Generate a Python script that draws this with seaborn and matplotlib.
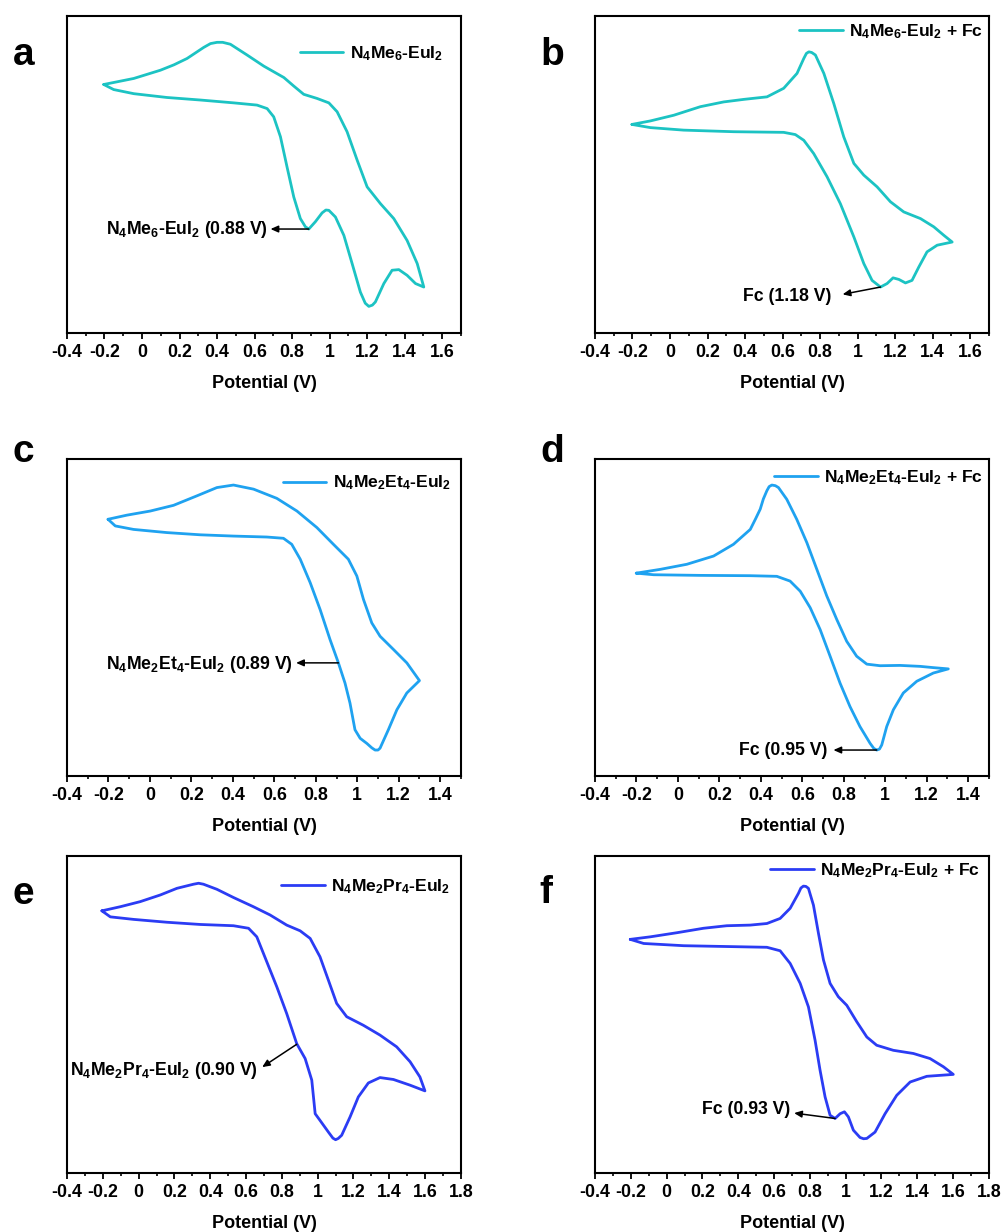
import numpy as np
import pandas as pd
import matplotlib
matplotlib.use('Agg')
import matplotlib.pyplot as plt
import seaborn as sns
from matplotlib.ticker import MultipleLocator, FuncFormatter

# --- data (potential in V, current in arbitrary units 0-100) ---
# panel a : N4Me6-EuI2
a_up_v = [-0.204, -0.044, 0.098, 0.170, 0.240, 0.329, 0.365, 0.400, 0.430, 0.471, 0.560, 0.649,
          0.756, 0.809, 0.862, 0.933, 0.996, 1.040, 1.093, 1.147, 1.200, 1.271, 1.342, 1.413,
          1.467, 1.502]
a_up_i = [78.4, 80.3, 82.9, 84.6, 86.6, 90.1, 91.3, 91.7, 91.7, 91.1, 87.7, 84.2,
          80.6, 77.9, 75.3, 74.0, 72.6, 69.8, 63.5, 54.5, 46.1, 40.8, 36.1, 29.2,
          21.9, 14.5]
a_dn_v = [-0.204, -0.151, -0.044, 0.133, 0.311, 0.489, 0.613, 0.667, 0.702, 0.738, 0.773, 0.809,
          0.844, 0.871, 0.889, 0.924, 0.960, 0.980, 0.996, 1.031, 1.076, 1.120, 1.164, 1.190,
          1.209, 1.228, 1.244, 1.289, 1.333, 1.369, 1.413, 1.458, 1.502]
a_dn_i = [78.4, 76.8, 75.5, 74.3, 73.5, 72.6, 71.9, 70.8, 68.2, 61.9, 52.4, 42.9,
          36.1, 33.5, 32.8, 35.1, 37.9, 38.8, 38.7, 36.6, 30.8, 21.9, 12.9, 9.4,
          8.4, 8.8, 9.8, 15.6, 19.8, 20.0, 18.2, 15.6, 14.5]

# panel b : N4Me6-EuI2 + Fc
b_up_v = [-0.203, -0.105, 0.020, 0.162, 0.286, 0.393, 0.517, 0.606, 0.677, 0.713, 0.727, 0.740,
          0.755, 0.775, 0.820, 0.873, 0.926, 0.980, 1.033, 1.104, 1.175, 1.246, 1.335, 1.406,
          1.460, 1.504]
b_up_i = [65.8, 66.9, 68.7, 71.4, 72.9, 73.7, 74.5, 77.2, 81.9, 86.6, 88.2, 88.7,
          88.5, 87.7, 81.9, 72.4, 61.9, 53.5, 49.8, 46.1, 41.4, 38.2, 36.1, 33.5,
          30.8, 28.7]
b_dn_v = [-0.203, -0.105, 0.073, 0.340, 0.606, 0.668, 0.713, 0.766, 0.837, 0.908, 0.980, 1.033,
          1.077, 1.122, 1.157, 1.189, 1.220, 1.255, 1.290, 1.326, 1.370, 1.424, 1.504]
b_dn_i = [65.8, 64.8, 64.0, 63.5, 63.3, 62.6, 60.8, 56.6, 49.3, 40.8, 30.3, 21.9,
          16.6, 14.5, 15.6, 17.4, 16.9, 15.8, 16.6, 20.8, 25.6, 27.7, 28.7]

# panel c : N4Me2Et4-EuI2
c_up_v = [-0.202, -0.111, 0.002, 0.114, 0.227, 0.323, 0.403, 0.500, 0.612, 0.709, 0.805, 0.885,
          0.957, 0.998, 1.030, 1.070, 1.110, 1.175, 1.239, 1.300]
c_up_i = [81.0, 82.3, 83.6, 85.4, 88.4, 91.0, 91.8, 90.5, 87.6, 83.6, 78.4, 73.1,
          68.4, 63.1, 55.7, 48.3, 44.1, 39.9, 35.7, 30.1]
c_dn_v = [-0.202, -0.167, -0.079, 0.082, 0.243, 0.403, 0.564, 0.644, 0.684, 0.725, 0.773, 0.821,
          0.869, 0.909, 0.941, 0.965, 0.989, 1.014, 1.046, 1.070, 1.086, 1.100, 1.110, 1.150,
          1.191, 1.239, 1.300]
c_dn_i = [81.0, 78.9, 77.8, 76.8, 76.1, 75.7, 75.4, 75.0, 73.1, 68.4, 61.0, 52.5,
          43.0, 35.7, 29.3, 23.0, 14.6, 11.9, 10.3, 8.9, 8.2, 8.2, 8.8, 14.6,
          20.9, 26.2, 30.1]

# panel d : N4Me2Et4-EuI2 + Fc
d_up_v = [-0.201, -0.085, 0.043, 0.172, 0.268, 0.349, 0.375, 0.397, 0.412, 0.429, 0.440, 0.453,
          0.470, 0.485, 0.525, 0.573, 0.622, 0.670, 0.718, 0.766, 0.814, 0.862, 0.911, 0.975,
          1.071, 1.168, 1.232, 1.304]
d_up_i = [64.0, 65.2, 66.8, 69.4, 73.1, 77.8, 81.2, 84.2, 87.4, 90.0, 91.3, 91.8,
          91.6, 91.0, 87.3, 81.0, 73.6, 65.2, 56.8, 49.4, 42.5, 37.8, 35.3, 34.8,
          34.9, 34.6, 34.2, 33.8]
d_dn_v = [-0.201, -0.117, 0.108, 0.349, 0.477, 0.541, 0.590, 0.638, 0.686, 0.734, 0.782, 0.830,
          0.878, 0.927, 0.945, 0.959, 0.972, 0.983, 1.007, 1.039, 1.087, 1.152, 1.232, 1.304]
d_dn_i = [64.0, 63.5, 63.3, 63.2, 63.0, 61.5, 58.3, 53.1, 46.2, 37.8, 29.3, 21.9,
          15.6, 10.3, 8.7, 8.2, 8.5, 9.8, 15.6, 20.9, 26.2, 29.9, 32.5, 33.8]

# panel e : N4Me2Pr4-EuI2
e_up_v = [-0.205, -0.102, 0.009, 0.121, 0.214, 0.307, 0.335, 0.362, 0.437, 0.530, 0.641, 0.734,
          0.827, 0.902, 0.958, 1.013, 1.060, 1.106, 1.162, 1.255, 1.348, 1.441, 1.516, 1.571,
          1.599]
e_up_i = [82.7, 84.0, 85.6, 87.7, 89.8, 91.1, 91.4, 91.1, 89.5, 86.9, 84.0, 81.4,
          78.2, 76.4, 74.0, 68.2, 60.8, 53.5, 49.3, 46.6, 43.5, 39.8, 35.1, 30.3,
          25.9]
e_dn_v = [-0.205, -0.158, -0.028, 0.158, 0.344, 0.530, 0.614, 0.660, 0.716, 0.772, 0.827, 0.883,
          0.930, 0.967, 0.986, 1.013, 1.060, 1.085, 1.100, 1.115, 1.134, 1.181, 1.227, 1.283,
          1.348, 1.423, 1.516, 1.599]
e_dn_i = [82.7, 80.8, 80.0, 79.1, 78.4, 78.0, 77.2, 74.5, 66.6, 58.7, 50.3, 40.8,
          36.1, 29.3, 18.7, 16.6, 12.9, 11.0, 10.5, 10.9, 11.9, 17.7, 24.0, 28.4,
          30.1, 29.5, 27.7, 25.9]

# panel f : N4Me2Pr4-EuI2 + Fc
f_up_v = [-0.203, -0.091, 0.058, 0.206, 0.336, 0.467, 0.560, 0.634, 0.690, 0.736, 0.750, 0.764,
          0.778, 0.792, 0.820, 0.848, 0.876, 0.913, 0.959, 1.006, 1.062, 1.118, 1.173, 1.266,
          1.378, 1.471, 1.546, 1.601]
f_up_i = [73.7, 74.5, 75.8, 77.2, 78.0, 78.2, 78.7, 80.3, 83.5, 88.2, 89.9, 90.5,
          90.4, 89.8, 84.5, 75.6, 67.2, 59.8, 55.6, 52.9, 47.7, 42.9, 40.3, 38.7,
          37.7, 36.1, 33.5, 31.1]
f_dn_v = [-0.203, -0.128, 0.095, 0.374, 0.560, 0.634, 0.690, 0.746, 0.792, 0.829, 0.857, 0.885,
          0.913, 0.941, 0.969, 0.993, 1.015, 1.043, 1.080, 1.100, 1.118, 1.164, 1.220, 1.285,
          1.360, 1.453, 1.601]
f_dn_i = [73.7, 72.4, 71.7, 71.4, 71.2, 70.1, 66.1, 59.8, 52.4, 41.9, 32.4, 24.0,
          18.2, 17.2, 18.7, 19.3, 17.7, 13.5, 11.2, 10.8, 10.9, 12.9, 18.7, 24.5,
          28.7, 30.5, 31.1]

labels = [r'N$_4$Me$_6$-EuI$_2$', r'N$_4$Me$_6$-EuI$_2$ + Fc',
          r'N$_4$Me$_2$Et$_4$-EuI$_2$', r'N$_4$Me$_2$Et$_4$-EuI$_2$ + Fc',
          r'N$_4$Me$_2$Pr$_4$-EuI$_2$', r'N$_4$Me$_2$Pr$_4$-EuI$_2$ + Fc']
notes = [r'N$_4$Me$_6$-EuI$_2$ (0.88 V)', 'Fc (1.18 V)',
         r'N$_4$Me$_2$Et$_4$-EuI$_2$ (0.89 V)', 'Fc (0.95 V)',
         r'N$_4$Me$_2$Pr$_4$-EuI$_2$ (0.90 V)', 'Fc (0.93 V)']
letters = ['a', 'b', 'c', 'd', 'e', 'f']
xmax = [1.7, 1.7, 1.5, 1.5, 1.8, 1.8]

curves = [(a_up_v, a_up_i, a_dn_v, a_dn_i), (b_up_v, b_up_i, b_dn_v, b_dn_i),
          (c_up_v, c_up_i, c_dn_v, c_dn_i), (d_up_v, d_up_i, d_dn_v, d_dn_i),
          (e_up_v, e_up_i, e_dn_v, e_dn_i), (f_up_v, f_up_i, f_dn_v, f_dn_i)]

colors = ['#1CC3C3', '#1CC3C3', '#1FA2F0', '#1FA2F0', '#2B3CF4', '#2B3CF4']

# annotation: (curve point), (arrow tip), (text right edge)
arrows = [((0.889, 32.8), (0.685, 32.8), (0.672, 32.8)),
          ((1.122, 14.5), (0.920, 12.2), (0.860, 11.4)),
          ((0.909, 35.7), (0.705, 35.7), (0.688, 35.2)),
          ((0.959, 8.2), (0.750, 8.2), (0.720, 8.2)),
          ((0.883, 40.6), (0.690, 33.4), (0.665, 32.4)),
          ((0.941, 17.2), (0.712, 18.9), (0.690, 20.0))]
leg_pos = [(0.954, 0.882), (0.985, 0.950), (0.974, 0.924),
           (0.985, 0.942), (0.972, 0.903), (0.977, 0.953)]

sns.set_style('ticks')
plt.rcParams['font.family'] = ['Liberation Sans', 'DejaVu Sans']
plt.rcParams['font.weight'] = 'bold'
plt.rcParams['text.color'] = 'black'
plt.rcParams['axes.labelcolor'] = 'black'
plt.rcParams['xtick.color'] = 'black'
plt.rcParams['mathtext.fontset'] = 'custom'
plt.rcParams['mathtext.rm'] = 'Liberation Sans:bold'
plt.rcParams['mathtext.it'] = 'Liberation Sans:bold'
plt.rcParams['mathtext.bf'] = 'Liberation Sans:bold'
plt.rcParams['mathtext.default'] = 'rm'
plt.rcParams['lines.solid_joinstyle'] = 'round'

fig = plt.figure(figsize=(10.04, 12.32), dpi=100)
lefts = [0.0667, 0.5926]
bottoms = [0.7297, 0.3701, 0.0479]
w, h = 0.3924, 0.2573

fmt = FuncFormatter(lambda v, _: '0' if abs(v) < 1e-9 else f'{round(v, 1):g}')

for k in range(6):
    row, col = divmod(k, 2)
    ax = fig.add_axes([lefts[col], bottoms[row], w, h])
    up_v, up_i, dn_v, dn_i = curves[k]
    df = pd.DataFrame({'Potential (V)': list(up_v) + list(dn_v)[::-1],
                       'Current': list(up_i) + list(dn_i)[::-1]})
    sns.lineplot(data=df, x='Potential (V)', y='Current', sort=False, estimator=None,
                 color=colors[k], linewidth=2.0, label=labels[k], ax=ax)

    ax.set_xlim(-0.4, xmax[k])
    ax.set_ylim(0, 100)
    ax.xaxis.set_major_locator(MultipleLocator(0.2))
    ax.xaxis.set_minor_locator(MultipleLocator(0.1))
    ax.xaxis.set_major_formatter(fmt)
    ax.set_yticks([])
    ax.set_ylabel('')
    ax.set_xlabel('Potential (V)', fontsize=13, fontweight='bold', labelpad=10)
    ax.tick_params(axis='x', which='major', direction='out', length=4, width=1.3,
                   labelsize=12.8, pad=4)
    ax.tick_params(axis='x', which='minor', direction='out', length=2.5, width=1.2)
    for s in ax.spines.values():
        s.set_visible(True)
        s.set_linewidth(1.5)
        s.set_color('black')

    ax.legend(loc='center right', bbox_to_anchor=leg_pos[k], frameon=False,
              borderpad=0, borderaxespad=0, handlelength=2.5, handletextpad=0.35,
              prop={'size': 12.6, 'weight': 'bold'})

    (px, py), (tx, ty), (lx, ly) = arrows[k]
    ax.annotate('', xy=(tx, ty), xytext=(px, py),
                arrowprops=dict(arrowstyle='-|>,head_length=0.45,head_width=0.2',
                                color='black', lw=1.1, shrinkA=0, shrinkB=0))
    ax.text(lx, ly, notes[k], ha='right', va='center', fontsize=12.7, fontweight='bold')

letter_xy = [(0.0126, 0.947), (0.5385, 0.947), (0.0126, 0.6253),
             (0.5385, 0.6253), (0.0126, 0.2662), (0.537, 0.2668)]
for k in range(6):
    fig.text(letter_xy[k][0], letter_xy[k][1], letters[k], fontsize=28, fontweight='bold',
             ha='left', va='baseline')

fig.savefig('out.png', dpi=100)
